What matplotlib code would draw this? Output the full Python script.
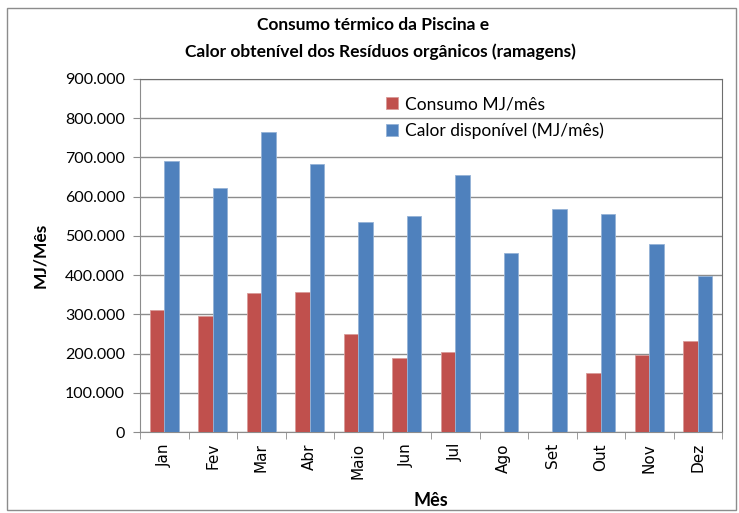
import matplotlib
matplotlib.use("Agg")
import matplotlib.pyplot as plt
import numpy as np
from matplotlib.ticker import FuncFormatter
from matplotlib.patches import Rectangle

months = ["Jan", "Fev", "Mar", "Abr", "Maio", "Jun", "Jul", "Ago", "Set", "Out", "Nov", "Dez"]
consumo = [312000, 296000, 355000, 357000, 249000, 189000, 204000, 0, 0, 150000, 197000, 232000]
calor = [692000, 622000, 764000, 684000, 536000, 551000, 656000, 457000, 569000, 555000, 480000, 397000]

plt.rcParams['font.family'] = ['Lato', 'DejaVu Sans']

fig = plt.figure(figsize=(7.39, 5.13), dpi=100)
ax = fig.add_axes([140/739, 1-432/513, (722-140)/739, (432-79)/513])

# outer chart border
fig.patches.append(Rectangle((7/739, 3/513), 729/739, 502/513, transform=fig.transFigure,
                             fill=False, edgecolor='#8c8c8c', linewidth=1.0))

x = np.arange(len(months))
w = 0.296
ax.bar(x - w/2, consumo, w, color='#C0504D', edgecolor='#d99a98', linewidth=0.6,
       label='Consumo MJ/mês', zorder=3)
ax.bar(x + w/2, calor, w, color='#4F81BD', edgecolor='#95b3d7', linewidth=0.6,
       label='Calor disponível (MJ/mês)', zorder=3)

ax.set_xlim(-0.5, 11.5)
ax.set_ylim(0, 900000)
ax.set_yticks(np.arange(0, 900001, 100000))
ax.yaxis.set_major_formatter(FuncFormatter(lambda v, p: '0' if v == 0 else f"{int(v):,}".replace(',', '.')))
ax.yaxis.grid(True, color='#8c8c8c', linewidth=1.0, zorder=0)
ax.set_axisbelow(True)

ax.set_xticks(x)
ax.set_xticklabels(months, rotation=90, fontsize=11, fontfamily=['DejaVu Sans'])
ax.set_xticks(np.arange(-0.5, 12, 1), minor=True)
ax.tick_params(axis='x', which='major', length=0, pad=8)
ax.tick_params(axis='x', which='minor', length=5, color='#8c8c8c', direction='out')
ax.tick_params(axis='y', length=5, color='#8c8c8c', labelsize=11.5, pad=6)

for s in ['left', 'bottom']:
    ax.spines[s].set_color('#8c8c8c')
for s in ['top', 'right']:
    ax.spines[s].set_color('#6e6e6e')

ax.set_ylabel('MJ/Mês', fontsize=12.5, fontweight='bold', labelpad=12)
ax.set_xlabel('Mês', fontsize=13, fontweight='bold', labelpad=9)

fig.text(0.505, 1-25/513, 'Consumo térmico da Piscina e', ha='center', va='center',
         fontsize=12.5, fontweight='bold')
fig.text(0.515, 1-52/513, 'Calor obtenível dos Resíduos orgânicos (ramagens)', ha='center', va='center',
         fontsize=12.5, fontweight='bold')

leg = ax.legend(loc='upper left', bbox_to_anchor=(0.395, 0.995), frameon=False, fontsize=12.5,
                handlelength=0.7, handleheight=0.7, handletextpad=0.4, labelspacing=0.6)

fig.savefig('out.png', dpi=100)
